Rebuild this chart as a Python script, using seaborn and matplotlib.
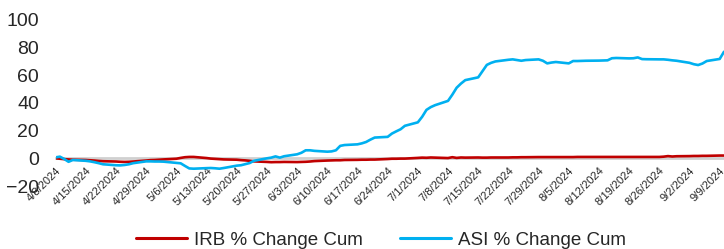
import numpy as np
import pandas as pd
import seaborn as sns
import matplotlib.pyplot as plt
import matplotlib.dates as mdates

# business days 4/8/2024 .. 9/10/2024
dates = pd.bdate_range("2024-04-08", "2024-09-10")

asi = [0.7, 1.2, -0.5, -2.5, -1.2,
       -1.8, -2.2, -2.8, -3.5, -4.3,
       -5.0, -5.1, -4.8, -4.3, -3.5,
       -2.2, -2.2, -2.3, -2.3, -2.4,
       -3.3, -3.6, -5.5, -7.3, -7.5,
       -7.1, -7.0, -7.2, -7.5, -7.0,
       -5.3, -5.0, -4.2, -3.4, -1.8,
       0.0, 0.5, 1.4, 0.5, 1.5,
       2.9, 4.0, 5.8, 5.8, 5.4,
       4.8, 5.0, 5.8, 9.0, 9.6,
       10.1, 10.8, 11.8, 13.5, 15.0,
       15.5, 17.9, 19.5, 21.0, 23.5,
       26.0, 30.0, 35.0, 37.0, 38.4,
       41.5, 46.0, 51.0, 54.0, 56.5,
       58.5, 63.0, 67.5, 69.0, 70.0,
       71.2, 71.5, 71.0, 70.5, 71.0,
       71.5, 70.5, 68.6, 69.2, 69.6,
       68.6, 70.3, 70.3, 70.4, 70.5,
       70.6, 70.7, 70.8, 72.3, 72.5,
       72.2, 72.3, 72.9, 71.7, 71.6,
       71.5, 71.5, 71.2, 70.8, 70.5,
       69.0, 68.0, 67.4, 68.5, 70.3,
       71.8, 77.0]

irb = [0.0, -0.3, -0.6, -0.8, -1.0,
       -1.2, -1.4, -1.6, -1.9, -2.1,
       -2.3, -2.5, -2.6, -2.5, -2.3,
       -1.6, -1.3, -1.2, -1.0, -0.8,
       -0.3, 0.3, 0.8, 1.0, 1.0,
       0.2, -0.2, -0.4, -0.6, -0.8,
       -1.0, -1.3, -1.5, -1.8, -2.2,
       -2.6, -2.8, -2.7, -2.7, -2.6,
       -2.7, -2.6, -2.5, -2.3, -2.0,
       -1.6, -1.5, -1.4, -1.4, -1.2,
       -1.1, -1.0, -1.0, -0.9, -0.9,
       -0.5, -0.3, -0.3, -0.2, -0.2,
       0.3, 0.5, 0.4, 0.6, 0.5,
       0.2, 0.8, 0.3, 0.6, 0.5,
       0.6, 0.5, 0.5, 0.6, 0.6,
       0.6, 0.7, 0.7, 0.8, 0.8,
       0.9, 0.9, 0.9, 0.9, 0.9,
       0.9, 0.9, 1.0, 1.0, 1.0,
       1.0, 1.0, 1.0, 1.0, 1.0,
       1.0, 1.0, 1.0, 1.0, 1.0,
       1.0, 1.2, 1.6, 1.3, 1.5,
       1.6, 1.7, 1.7, 1.8, 1.8,
       2.0, 2.0]

series_names = ["IRB % Change Cum", "ASI % Change Cum"]
colors = ["#C00000", "#00B0F0"]

df = pd.DataFrame({"Date": dates, series_names[0]: irb, series_names[1]: asi})
long = df.melt(id_vars="Date", var_name="Series", value_name="Value")

sns.set_style("white")
plt.rcParams["font.family"] = ["Liberation Sans", "DejaVu Sans"]

fig = plt.figure(figsize=(7.24, 2.49), dpi=100)
ax = fig.add_axes([0.0768, 0.253, 0.9232, 0.667])

sns.lineplot(data=long, x="Date", y="Value", hue="Series", hue_order=series_names,
             palette=colors, linewidth=1.9, ax=ax, legend=False, zorder=3)

ax.set_ylim(-20, 100)
ax.set_yticks([-20, 0, 20, 40, 60, 80, 100])
ax.set_xlim(pd.Timestamp("2024-04-08"), pd.Timestamp("2024-04-08") + pd.Timedelta(days=155))

for s in ["top", "right", "left"]:
    ax.spines[s].set_visible(False)
ax.spines["bottom"].set_position(("data", 0))
ax.spines["bottom"].set_color("#D0D0D0")
ax.spines["bottom"].set_linewidth(2)
ax.spines["bottom"].set_zorder(1)

ax.xaxis.set_major_locator(mdates.WeekdayLocator(byweekday=mdates.MO))
ax.xaxis.set_major_formatter(mdates.DateFormatter("%-m/%-d/%Y"))
ax.tick_params(axis="x", direction="out", length=4, width=1, color="#D0D0D0",
               labelsize=8, pad=1)
ax.tick_params(axis="y", length=0, labelsize=14, pad=12)
for lbl in ax.get_xticklabels():
    lbl.set_rotation(45)
    lbl.set_ha("right")
    lbl.set_rotation_mode("anchor")
ax.set_xlabel("")
ax.set_ylabel("")

handles = [plt.Line2D([], [], color=c, linewidth=2.2) for c in colors]
fig.legend(handles, series_names, loc="center", bbox_to_anchor=(0.526, 0.035),
           ncol=2, frameon=False, fontsize=13.5, handlelength=2.7,
           columnspacing=2.0, handletextpad=0.37)

fig.savefig("out.png", dpi=100)
